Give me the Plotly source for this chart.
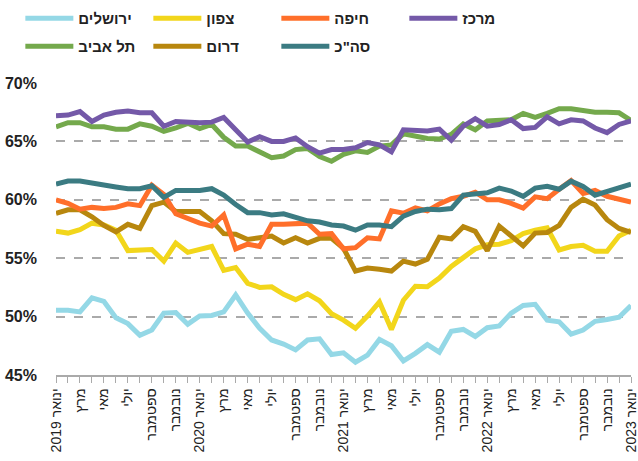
import plotly.graph_objects as go

# Monthly series, January 2019 - January 2023 (percent)
years = [2019, 2020, 2021, 2022, 2023]
month_names = ["ינואר", "פברואר", "מרץ", "אפריל", "מאי", "יוני",
               "יולי", "אוגוסט", "ספטמבר", "אוקטובר", "נובמבר", "דצמבר"]

jerusalem = [50.55, 50.55, 50.4, 51.6, 51.3, 49.9, 49.4, 48.4, 48.85, 50.3,
             50.35, 49.35, 50.05, 50.1, 50.4, 51.85, 50.3, 49.0, 48.0, 47.65,
             47.15, 48.0, 48.1, 46.75, 46.9, 46.1, 46.7, 48.05, 47.5, 46.2,
             46.85, 47.6, 46.95, 48.75, 48.9, 48.3, 49.05, 49.2, 50.3, 50.95,
             51.05, 49.7, 49.55, 48.5, 48.85, 49.6, 49.75, 49.95, 50.95]
north = [57.3, 57.15, 57.45, 58.0, 57.85, 57.4, 55.65, 55.65, 55.75, 54.75,
         56.3, 55.5, 55.8, 56.0, 53.95, 54.2, 52.85, 52.5, 52.55, 51.9,
         51.45, 51.95, 51.35, 50.25, 49.7, 49.0, 50.05, 51.25, 48.9, 51.4,
         52.6, 52.55, 53.3, 54.3, 55.05, 55.8, 56.15, 56.2, 56.5, 57.1,
         57.4, 57.6, 55.7, 56.0, 56.1, 55.6, 55.6, 56.9, 57.4]
haifa = [60.0, 59.7, 59.2, 59.35, 59.25, 59.35, 59.65, 59.5, 61.25, 60.45,
         58.8, 58.4, 58.0, 57.75, 58.7, 55.8, 56.2, 56.0, 57.9, 57.9,
         57.9, 58.0, 57.05, 57.1, 55.8, 55.9, 56.75, 56.65, 59.05, 58.85,
         59.3, 59.05, 59.65, 60.1, 60.3, 60.65, 60.0, 60.0, 59.7, 59.3,
         60.25, 60.1, 60.9, 61.65, 60.55, 60.8, 60.3, 60.0, 59.8]
center = [67.2, 67.25, 67.55, 66.7, 67.25, 67.5, 67.6, 67.45, 67.45, 66.3,
          66.7, 66.6, 66.6, 66.65, 67.05, 66.0, 64.95, 65.4, 65.0, 65.0,
          65.3, 64.55, 64.0, 64.3, 64.3, 64.45, 64.9, 64.7, 64.1, 66.0,
          65.9, 65.9, 66.05, 65.1, 66.3, 66.95, 66.3, 66.45, 66.85, 66.1,
          66.2, 67.1, 66.5, 66.85, 66.75, 66.15, 65.75, 66.45, 66.75]
tel_aviv = [66.25, 66.6, 66.6, 66.25, 66.25, 66.05, 66.05, 66.5, 66.3, 65.85,
            66.15, 66.55, 66.1, 66.45, 65.35, 64.6, 64.6, 64.15, 63.6, 63.75,
            64.3, 64.4, 63.7, 63.3, 63.9, 64.2, 64.05, 64.6, 64.7, 65.65,
            65.4, 65.25, 65.2, 65.6, 66.5, 66.0, 66.75, 66.75, 66.85, 67.4,
            67.05, 67.4, 67.8, 67.8, 67.6, 67.5, 67.5, 67.45, 66.8]
south = [58.85, 59.15, 59.15, 58.55, 57.8, 57.25, 57.9, 57.55, 59.5, 59.8,
         59.0, 58.95, 59.0, 58.2, 57.1, 57.05, 56.6, 56.75, 56.9, 56.3,
         56.75, 56.3, 56.7, 56.7, 55.85, 53.9, 54.15, 54.05, 53.9, 54.75,
         54.5, 54.9, 56.8, 56.65, 57.7, 57.3, 55.65, 57.75, 56.9, 56.05,
         57.15, 57.2, 57.8, 59.35, 60.05, 59.55, 58.3, 57.55, 57.2]
total = [61.35, 61.6, 61.6, 61.4, 61.3, 61.1, 60.95, 60.95, 61.2, 60.2,
         60.8, 60.8, 60.8, 60.95, 60.4, 59.6, 58.9, 58.9, 58.7, 58.8,
         58.5, 58.2, 58.1, 57.85, 57.75, 57.4, 57.85, 57.85, 57.7, 58.6,
         59.0, 59.2, 59.15, 59.25, 60.4, 60.55, 60.6, 61.0, 60.75, 60.3,
         61.0, 61.15, 60.9, 61.6, 61.15, 60.4, 60.7, 61.0, 61.35]

# category keys and tick labels (every second month, year under January)
months = [f"{y}-{m + 1:02d}" for y in years for m in range(12)][:49]
tick_text = []
for key in months:
    y, m = key.split("-")
    m = int(m) - 1
    if m % 2:
        tick_text.append("")
    elif m == 0:
        tick_text.append(f"{month_names[m]} {y}")
    else:
        tick_text.append(month_names[m])

# (name, values, colour, legend, rank) - listed in drawing order
series = [
    ("ירושלים", jerusalem, "#94d8e6", "legend", 1),
    ("צפון", north, "#f2d61b", "legend", 2),
    ("דרום", south, "#b8870e", "legend2", 6),
    ("חיפה", haifa, "#ff6f2a", "legend", 3),
    ("תל אביב", tel_aviv, "#74a94c", "legend2", 5),
    ("מרכז", center, "#7459a8", "legend", 4),
    ('סה"כ', total, "#3b7b82", "legend2", 7),
]

fig = go.Figure()
for name, vals, color, leg, rank in series:
    fig.add_trace(go.Scatter(
        x=months, y=vals, name=name, mode="lines",
        line=dict(color=color, width=5),
        legend=leg, legendrank=rank,
    ))

legend_style = dict(
    orientation="h", xanchor="left", yanchor="middle",
    entrywidth=65, entrywidthmode="pixels", itemwidth=48,
    font=dict(size=15, weight="bold", color="#222"),
    traceorder="normal", bgcolor="rgba(0,0,0,0)",
)

fig.update_layout(
    width=638, height=461,
    margin=dict(l=56, r=7, t=83, b=86, autoexpand=False),
    plot_bgcolor="white", paper_bgcolor="white",
    font=dict(family="Arial, Liberation Sans, sans-serif", color="#222"),
    legend=dict(legend_style, x=-0.062, y=1.221),
    legend2=dict(legend_style, x=-0.062, y=1.125),
    showlegend=True,
)
fig.update_xaxes(
    type="category", range=[0, 48], automargin=False,
    tickvals=months, ticktext=tick_text, tickangle=-90,
    ticks="outside", ticklen=6, tickcolor="#aaa",
    showline=True, linecolor="#aaa", linewidth=1.5,
    showgrid=False, tickfont=dict(size=14, color="#222"),
)
fig.update_yaxes(
    range=[45, 70], dtick=5, ticksuffix="%", automargin=False,
    showgrid=True, gridcolor="#aaa", griddash="dash", gridwidth=1.5,
    zeroline=False, ticklabelstandoff=18,
    tickfont=dict(size=16, weight="bold", color="#222"),
)

# drop the page's default body margin so the figure sits at the window corner
fig.write_html("out.html", config={"displayModeBar": False},
               post_script="document.body.style.margin='0';")
